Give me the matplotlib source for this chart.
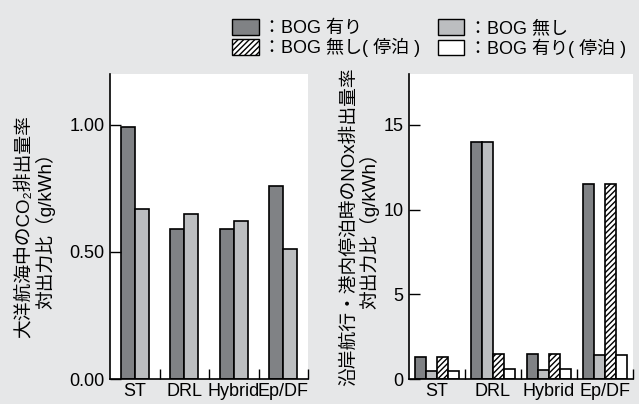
import matplotlib.pyplot as plt
import matplotlib.patches as mpatches
import numpy as np

# data
categories = ['ST', 'DRL', 'Hybrid', 'Ep/DF']
co2_bog = [0.99, 0.59, 0.59, 0.76]
co2_nobog = [0.67, 0.65, 0.62, 0.51]
nox_bog = [1.3, 14.0, 1.5, 11.5]
nox_nobog = [0.5, 14.0, 0.55, 1.4]
nox_nobog_port = [1.3, 1.45, 1.45, 11.5]
nox_bog_port = [0.45, 0.57, 0.57, 1.43]
labels = ['：BOG 有り', '：BOG 無し', '：BOG 無し( 停泊 )', '：BOG 有り( 停泊 )']

BG = '#e6e7e8'
DARK = '#808285'
LIGHT = '#bcbec0'
LAT = ['Liberation Sans', 'Noto Sans CJK JP', 'DejaVu Sans']

plt.rcParams['font.family'] = LAT
plt.rcParams['hatch.linewidth'] = 1.0

fig = plt.figure(figsize=(6.39, 4.04), dpi=100, facecolor=BG)
ax1 = fig.add_axes([110/639, 25/404, 198/639, 305/404])
ax2 = fig.add_axes([409/639, 25/404, 224/639, 305/404])

x = np.arange(len(categories))
style = dict(edgecolor='black', linewidth=1.2)

w1 = 0.285
ax1.bar(x - w1/2, co2_bog, w1, color=DARK, **style)
ax1.bar(x + w1/2, co2_nobog, w1, color=LIGHT, **style)
ax1.set_ylim(0, 1.2)
ax1.set_yticks([0, 0.5, 1.0])
ax1.set_yticklabels(['0.00', '0.50', '1.00'])

w2 = 0.2
ax2.bar(x - 1.5*w2, nox_bog, w2, color=DARK, **style)
ax2.bar(x - 0.5*w2, nox_nobog, w2, color=LIGHT, **style)
ax2.bar(x + 0.5*w2, nox_nobog_port, w2, color='white', hatch='//////', **style)
ax2.bar(x + 1.5*w2, nox_bog_port, w2, color='white', **style)
ax2.set_ylim(0, 18)
ax2.set_yticks([0, 5, 10, 15])

for ax in (ax1, ax2):
    ax.set_xlim(-0.5, 3.5)
    ax.set_xticks(x)
    ax.set_xticklabels(categories)
    ax.set_xticks(x + 0.5, minor=True)
    ax.tick_params(axis='x', which='major', length=0, labelsize=13, pad=3)
    ax.tick_params(axis='x', which='minor', direction='in', length=7, width=1)
    ax.tick_params(axis='y', direction='in', length=8, width=1, labelsize=13, pad=4)
    for s in ('top', 'right'):
        ax.spines[s].set_visible(False)
    ax.spines['left'].set_linewidth(1.2)
    ax.spines['bottom'].set_linewidth(1.2)

ax1.set_ylabel('大洋航海中のCO₂排出量率\n対出力比（g/kWh）', fontsize=13.5,
               linespacing=1.15, labelpad=10)
ax2.set_ylabel('沿岸航行・港内停泊時のNOx排出量率\n対出力比（g/kWh）', fontsize=13.5,
               linespacing=1.05, labelpad=3)

handles = [mpatches.Patch(facecolor=DARK, edgecolor='black'),
           mpatches.Patch(facecolor='white', edgecolor='black', hatch='//////'),
           mpatches.Patch(facecolor=LIGHT, edgecolor='black'),
           mpatches.Patch(facecolor='white', edgecolor='black')]
leg_labels = [labels[0], labels[2], labels[1], labels[3]]
fig.legend(handles, leg_labels, ncol=2, loc='upper left', bbox_to_anchor=(218/639, 1 - 5/404),
           frameon=False, prop={'size': 13}, handlelength=1.45, handleheight=0.95,
           handletextpad=0.25, columnspacing=1.0, labelspacing=0.05, borderpad=0.3)

fig.savefig('out.png', dpi=100, facecolor=BG)
